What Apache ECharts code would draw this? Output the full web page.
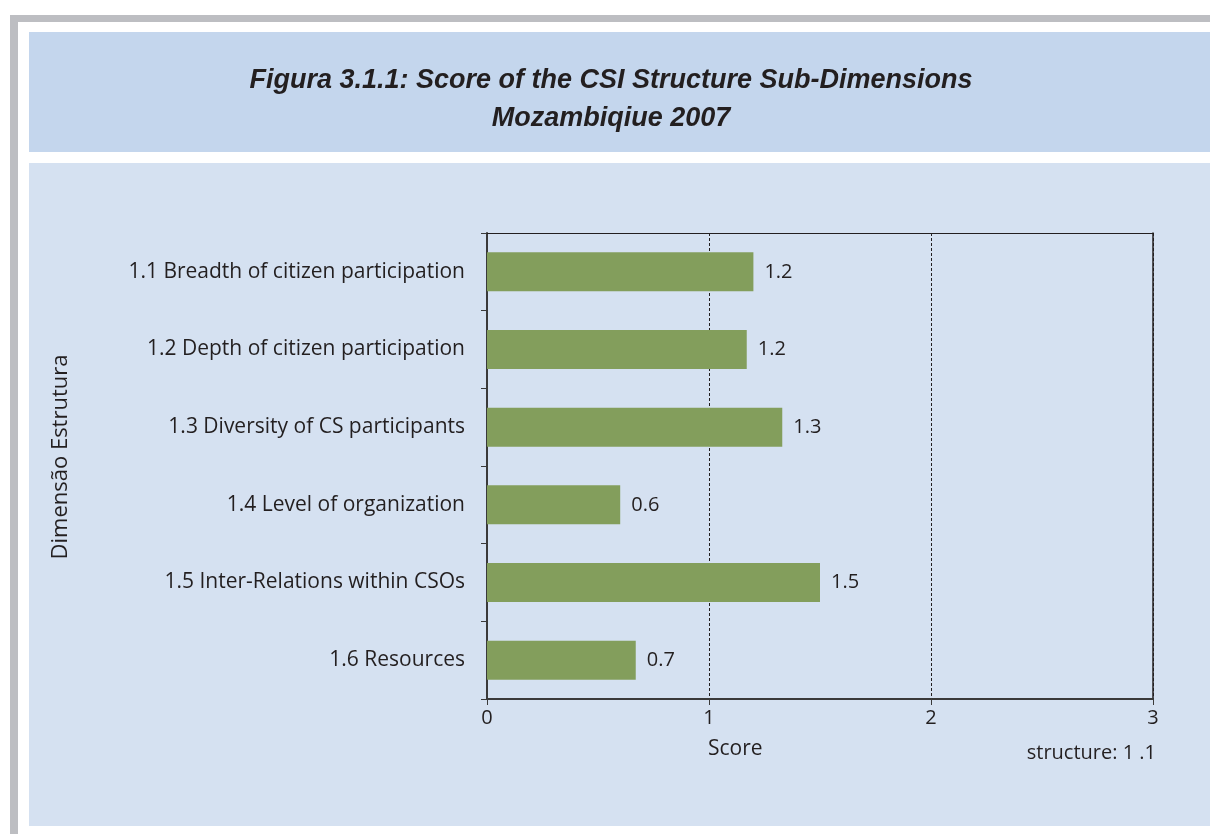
<!DOCTYPE html>
<html>
<head>
<meta charset="utf-8">
<script src="https://cdn.jsdelivr.net/npm/echarts@6/dist/echarts.min.js"></script>
<style>
  body { margin: 0; background: #fff; }
  .frame-top { position: absolute; left: 10px; top: 15px; width: 1200px; height: 7px; background: #bdbec2; }
  .frame-left { position: absolute; left: 10px; top: 15px; width: 8px; height: 819px; background: #bdbec2; }
  .title-box { position: absolute; left: 29px; top: 32px; width: 1181px; height: 120px; background: #c4d6ed; }
  .chart-box { position: absolute; left: 29px; top: 163px; width: 1181px; height: 663px; background: #d5e1f1; }
  #main { position: absolute; left: 0; top: 0; width: 1210px; height: 834px; }
</style>
</head>
<body>
<div class="frame-top"></div>
<div class="frame-left"></div>
<div class="title-box"></div>
<div class="chart-box"></div>
<div id="main"></div>
<script>
  const categories = [
    '1.1 Breadth of citizen participation',
    '1.2 Depth of citizen participation',
    '1.3 Diversity of CS participants',
    '1.4 Level of organization',
    '1.5 Inter-Relations within CSOs',
    '1.6 Resources'
  ];
  const scores = [1.2, 1.17, 1.33, 0.6, 1.5, 0.67];
  const scoreLabels = ['1.2', '1.2', '1.3', '0.6', '1.5', '0.7'];
  const xTicks = [0, 1, 2, 3];

  const myChart = echarts.init(document.getElementById('main'));
  const font = '"Open Sans", "Noto Sans", sans-serif';
  const ink = '#231f20';

  const option = {
    backgroundColor: 'transparent',
    animation: false,
    title: {
      text: 'Figura 3.1.1: Score of the CSI Structure Sub-Dimensions\nMozambiqiue 2007',
      left: 606,
      top: 57,
      textAlign: 'center',
      textStyle: {
        fontFamily: '"Liberation Sans", Arial, sans-serif',
        fontStyle: 'italic',
        fontWeight: 'bold',
        fontSize: 27,
        lineHeight: 38,
        color: ink
      }
    },
    grid: {
      left: 487,
      right: 57,
      top: 233,
      bottom: 135
    },
    xAxis: [{
      type: 'value',
      min: xTicks[0],
      max: xTicks[xTicks.length - 1],
      interval: 1,
      axisLine: { show: true, lineStyle: { color: '#3a3a3a', width: 2 } },
      axisTick: { show: true, length: 6, lineStyle: { color: '#3a3a3a' } },
      axisLabel: { fontFamily: font, fontSize: 20, color: ink, margin: 9 },
      splitLine: { show: true, lineStyle: { color: ink, type: [3, 2], width: 1 } }
    }, {
      // top frame line
      type: 'value',
      position: 'top',
      min: 0,
      max: 3,
      axisLine: { show: true, onZero: false, lineStyle: { color: ink, width: 1 } },
      axisTick: { show: false },
      axisLabel: { show: false },
      splitLine: { show: false }
    }],
    yAxis: [{
      type: 'category',
      inverse: true,
      data: categories,
      axisLine: { show: true, lineStyle: { color: '#3a3a3a', width: 2 } },
      axisTick: { show: true, length: 6, inside: false, lineStyle: { color: '#3a3a3a' } },
      axisLabel: { fontFamily: font, fontSize: 21, color: ink, margin: 22 }
    }, {
      // right frame line
      type: 'value',
      position: 'right',
      axisLine: { show: true, onZero: false, lineStyle: { color: ink, width: 1.5 } },
      axisTick: { show: false },
      axisLabel: { show: false },
      splitLine: { show: false }
    }],
    series: [{
      type: 'bar',
      data: scores,
      barWidth: 39,
      itemStyle: { color: '#839e5c' },
      label: {
        show: true,
        position: 'right',
        distance: 11,
        fontFamily: font,
        fontSize: 20,
        color: ink,
        formatter: (p) => scoreLabels[p.dataIndex]
      }
    }],
    graphic: [
      {
        type: 'text',
        x: 61,
        y: 457,
        rotation: Math.PI / 2,
        style: {
          text: 'Dimensão Estrutura',
          font: '22px ' + font,
          fill: ink,
          align: 'center',
          verticalAlign: 'middle'
        }
      },
      {
        type: 'text',
        left: 708,
        top: 739,
        style: { text: 'Score', font: '21px ' + font, fill: ink }
      },
      {
        type: 'text',
        right: 54,
        top: 743,
        style: { text: 'structure: 1 .1', font: '20px ' + font, fill: ink }
      }
    ]
  };

  myChart.setOption(option);
</script>
</body>
</html>
